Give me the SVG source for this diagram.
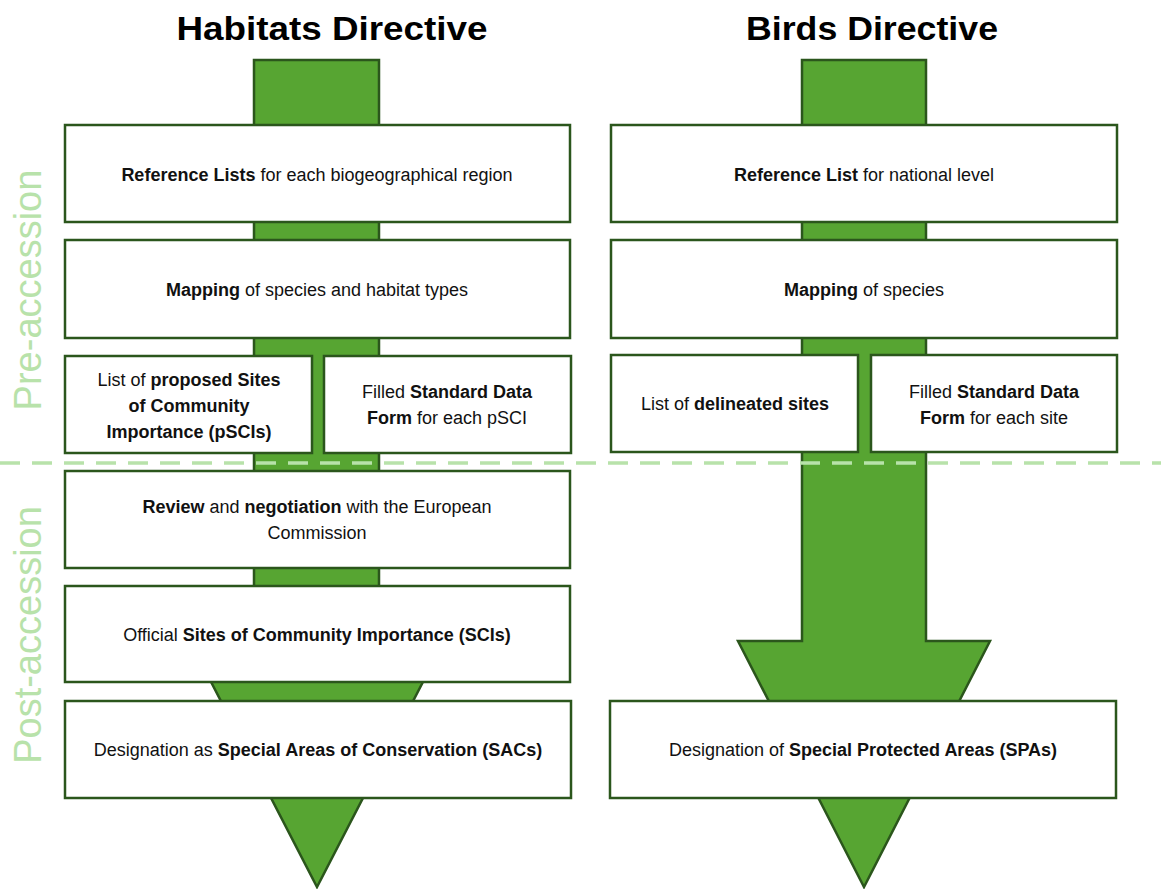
<svg xmlns="http://www.w3.org/2000/svg" width="1161" height="889" viewBox="0 0 1161 889">
<style>
.box{fill:#fff;stroke:#2b561c;stroke-width:2.5}
.arrow{fill:#57a532;stroke:#2b561c;stroke-width:2.5;stroke-linejoin:miter}
.t{font-family:"Liberation Sans",Arial,sans-serif;font-size:18px;fill:#111;text-anchor:middle}
.b{font-weight:bold}
.title{font-family:"Liberation Sans",Arial,sans-serif;font-size:34px;font-weight:bold;fill:#000;text-anchor:middle}
.phase{font-family:"Liberation Sans",Arial,sans-serif;font-size:38px;fill:#b8e2aa;text-anchor:middle}
.dash{stroke:#b8e2aa;stroke-width:3.5;stroke-dasharray:20 12;fill:none}
</style>
<rect width="1161" height="889" fill="#fff"/>
<g id="titles">
<text class="title" x="332" y="40" textLength="311" lengthAdjust="spacingAndGlyphs">Habitats Directive</text>
<text class="title" x="872" y="40" textLength="252" lengthAdjust="spacingAndGlyphs">Birds Directive</text>
</g>
<g id="connectors">
<path class="arrow" d="M254,60 H379 V676 H426 L317,887 L208,676 H254 Z"/>
<path class="arrow" d="M802,60 H926 V641 H990 L864,887 L738,641 H802 Z"/>
</g>
<g id="phases">
<text class="phase" transform="translate(41,290) rotate(-90)">Pre-accession</text>
<text class="phase" transform="translate(41,635) rotate(-90)">Post-accession</text>
</g>
<g id="hd-reference">
<rect class="box" x="65" y="125" width="505" height="97"/>
<text class="t" x="317" y="181"><tspan class="b">Reference Lists</tspan> for each biogeographical region</text>
</g>
<g id="hd-mapping">
<rect class="box" x="65" y="240" width="505" height="98"/>
<text class="t" x="317" y="296"><tspan class="b">Mapping</tspan> of species and habitat types</text>
</g>
<g id="hd-psci">
<rect class="box" x="65" y="356" width="247" height="97"/>
<text class="t" x="189" y="386">List of <tspan class="b">proposed Sites</tspan></text>
<text class="t b" x="189" y="412">of Community</text>
<text class="t b" x="189" y="438">Importance (pSCIs)</text>
</g>
<g id="hd-sdf">
<rect class="box" x="324" y="356" width="247" height="97"/>
<text class="t" x="447" y="398">Filled <tspan class="b">Standard Data</tspan></text>
<text class="t" x="447" y="424"><tspan class="b">Form</tspan> for each pSCI</text>
</g>
<g id="hd-review">
<rect class="box" x="65" y="471" width="505" height="97"/>
<text class="t" x="317" y="513"><tspan class="b">Review</tspan> and <tspan class="b">negotiation</tspan> with the European</text>
<text class="t" x="317" y="539">Commission</text>
</g>
<g id="hd-sci">
<rect class="box" x="65" y="586" width="505" height="96"/>
<text class="t" x="317" y="641">Official <tspan class="b">Sites of Community Importance (SCIs)</tspan></text>
</g>
<g id="hd-sac">
<rect class="box" x="65" y="701" width="506" height="97"/>
<text class="t" x="318" y="756">Designation as <tspan class="b">Special Areas of Conservation (SACs)</tspan></text>
</g>
<g id="bd-reference">
<rect class="box" x="611" y="125" width="506" height="97"/>
<text class="t" x="864" y="181"><tspan class="b">Reference List</tspan> for national level</text>
</g>
<g id="bd-mapping">
<rect class="box" x="611" y="240" width="506" height="98"/>
<text class="t" x="864" y="296"><tspan class="b">Mapping</tspan> of species</text>
</g>
<g id="bd-sites">
<rect class="box" x="611" y="355" width="247" height="97"/>
<text class="t" x="735" y="410">List of <tspan class="b">delineated sites</tspan></text>
</g>
<g id="bd-sdf">
<rect class="box" x="871" y="355" width="246" height="97"/>
<text class="t" x="994" y="398">Filled <tspan class="b">Standard Data</tspan></text>
<text class="t" x="994" y="424"><tspan class="b">Form</tspan> for each site</text>
</g>
<g id="bd-spa">
<rect class="box" x="610" y="701" width="506" height="97"/>
<text class="t" x="863" y="756">Designation of <tspan class="b">Special Protected Areas (SPAs)</tspan></text>
</g>
<g id="divider">
<line class="dash" x1="0" y1="463" x2="1161" y2="463"/>
</g>
</svg>
